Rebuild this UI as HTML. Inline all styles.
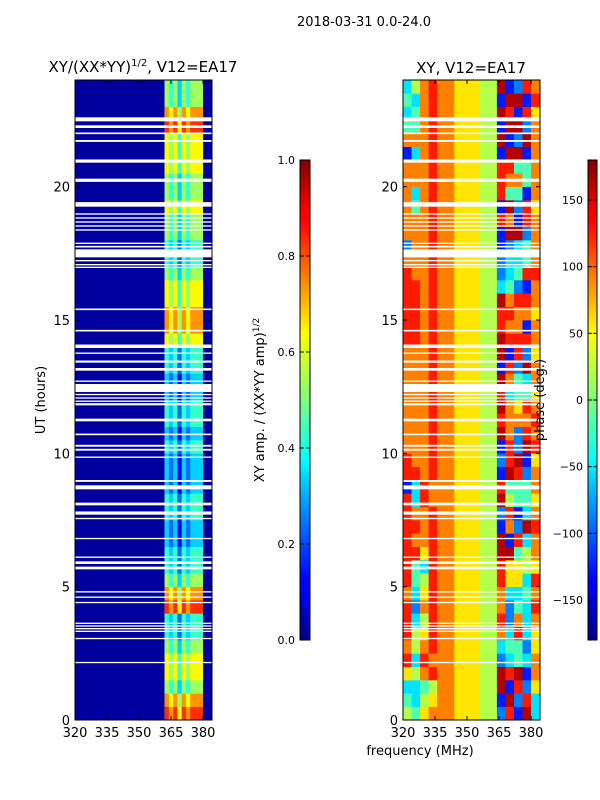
<!DOCTYPE html>
<html><head><meta charset="utf-8">
<style>
html,body{margin:0;padding:0;background:#fff;}
svg{display:block;font-family:"DejaVu Sans","Liberation Sans",sans-serif;}
</style></head>
<body>
<svg id="fig" width="600" height="800" viewBox="0 0 600 800" xmlns="http://www.w3.org/2000/svg">
<defs>
<linearGradient id="jet" x1="0" y1="1" x2="0" y2="0">
<stop offset="0" stop-color="#00007f"/><stop offset="0.11" stop-color="#0000ff"/>
<stop offset="0.125" stop-color="#0000ff"/><stop offset="0.34" stop-color="#00d4ff"/>
<stop offset="0.375" stop-color="#0ff"/><stop offset="0.5" stop-color="#7dff7a"/>
<stop offset="0.64" stop-color="#ff0"/><stop offset="0.66" stop-color="#ffe600"/>
<stop offset="0.875" stop-color="#ff0000"/><stop offset="0.89" stop-color="#f00"/>
<stop offset="1" stop-color="#7f0000"/>
</linearGradient>
</defs>
<g id="plots"></g>
<text x="364" y="26" font-size="13" text-anchor="middle">2018-03-31 0.0-24.0</text>
<text x="143" y="72" font-size="15" text-anchor="middle">XY/(XX*YY)<tspan font-size="10" dy="-6">1/2</tspan><tspan dy="6">, V12=EA17</tspan></text>
<text x="471" y="73" font-size="15" text-anchor="middle">XY, V12=EA17</text>
<text transform="translate(45,400) rotate(-90)" font-size="13" text-anchor="middle">UT (hours)</text>
<text x="420" y="755" font-size="13" text-anchor="middle">frequency (MHz)</text>
<text transform="translate(264,400) rotate(-90)" font-size="13" text-anchor="middle">XY amp. / (XX*YY amp)<tspan font-size="9" dy="-5">1/2</tspan></text>
<text transform="translate(544,400) rotate(-90)" font-size="13" text-anchor="middle">phase (deg.)</text>
</svg>
<script>
// ---- data ----
const tMin = 0, tMax = 24;
const fMin = 320, fMax = 384.2;
const hourTicks = [0, 5, 10, 15, 20];
const freqTicks = [320, 335, 350, 365, 380];
const ampTicks = [0.0, 0.2, 0.4, 0.6, 0.8, 1.0];
const ampTickLabels = ["0.0", "0.2", "0.4", "0.6", "0.8", "1.0"];
const phaseTicks = [-150, -100, -50, 0, 50, 100, 150];
const phaseTickLabels = ["\u2212150", "\u2212100", "\u221250", "0", "50", "100", "150"];
const rowHours = 0.5;
const ampBackground = 0.03;
const ampBandStart = 362, ampBandWidth = 2;
const ampBands = [
"87868788800","76757677700","54535455500","65646566600","65646566600","54535455500",
"43424344400","43424344400","87868788800","76757677700","54535455500","43424344400",
"43424344400","32313233300","32313233300","43424344400","43424344400","32313233300",
"32313233300","32313233300","43424344400","32313233300","43424344400","43424344400",
"32313233300","32313233300","43424344400","43424344400","65646566600","76757677700",
"76757677700","65646566600","65646566600","54535455500","43424344400","43424344400",
"54535455500","54535455500","65646566600","54535455500","54535455500","65646566600",
"65646566600","65646566600","87868788800","76757677700","54535455500","54535455500"];
const phaseBinWidth = 4;
const phaseRows = [
"5467776665528193","4356776665519283","3345776665591826","6578776665598917",
"8387776665523437","7578776665534426","8568776665573836","8358776665582737",
"8278776665572438","7368776665573347","8458776665586638","8438776665586656",
"8868776665599457","8778776665591837","8878776665517298","8778776665528137",
"8387776665595446","1387776665584447","8878776665519827","8778776665528916",
"7778776665518298","7778776665597287","7778776665587778","7778776665597687",
"7778776665583446","7778776665597437","7778776665518297","7778776665591826",
"8878776665598887","8878776665587717","8878776665588776","8878776665597887",
"8878776665534217","8778776665523488","7778776665523347","2778776665512347",
"7778776665519927","7778776665587187","7478776665519286","7378776665584417",
"7778776665587747","7778776665588447","1378776665519917","7778776665591297",
"4478776665519927","3478776665598186","4378776665519918","3578776665591287"];
const gapStart = [22.45,22.2,21.97,21.68,20.9,20.18,19.25,18.95,18.8,18.65,18.5,18.35,17.85,17.72,17.35,17.2,17.05,16.95,15.37,14.57,13.95,13.73,13.4,13.1,12.68,12.3,12.18,12.05,11.93,11.8,11.2,10.68,10.25,10.1,9.83,8.93,8.65,8.05,7.7,7.53,6.78,6.08,5.85,5.65,4.78,4.58,4.38,3.6,3.5,3.4,3.3,3.03,2.13];
const gapEnd   = [22.6,22.3,22.03,21.75,21.02,20.3,19.42,19.0,18.85,18.7,18.55,18.4,17.9,17.78,17.65,17.25,17.1,17.0,15.43,14.63,14.08,13.78,13.48,13.2,12.73,12.6,12.23,12.1,11.98,11.88,11.3,10.74,10.32,10.17,9.88,9.0,8.8,8.15,7.82,7.58,6.83,6.13,5.95,5.75,4.83,4.63,4.43,3.65,3.55,3.45,3.35,3.08,2.18];

// ---- layout ----
const NS = "http://www.w3.org/2000/svg";
const root = document.getElementById('plots');
const plotTop = 80, plotBottom = 720;
function jet(v){
  v = Math.max(0, Math.min(1, v));
  const c = x => Math.round(255 * Math.max(0, Math.min(1, x)));
  return `rgb(${c(1.5-Math.abs(4*v-3))},${c(1.5-Math.abs(4*v-2))},${c(1.5-Math.abs(4*v-1))})`;
}
function mk(tag, attrs, parent){
  const e = document.createElementNS(NS, tag);
  for (const k in attrs) e.setAttribute(k, attrs[k]);
  (parent || root).appendChild(e);
  return e;
}
function yOfHour(h){ return plotBottom - (h - tMin) / (tMax - tMin) * (plotBottom - plotTop); }

function panel(name, x0, x1, cellFn){
  const xOf = f => x0 + (f - fMin) / (fMax - fMin) * (x1 - x0);
  const g = mk('g', {});
  
  
  cellFn(g, xOf);
  for (let i = 0; i < gapStart.length; i++) {
    const r = mk('rect', {x: x0, y: yOfHour(gapEnd[i]), width: x1 - x0, height: yOfHour(gapStart[i]) - yOfHour(gapEnd[i]), fill: '#fff'}, g);
    
    
  }
  const fr = mk('rect', {x: x0, y: plotTop, width: x1 - x0, height: plotBottom - plotTop, fill: 'none', stroke: '#000', 'stroke-width': 1}, g);
  
  
  hourTicks.forEach(h => {
    const y = yOfHour(h);
    mk('line', {x1: x0, x2: x0 + 4, y1: y, y2: y, stroke: '#000'}, g);
    mk('line', {x1: x1, x2: x1 - 4, y1: y, y2: y, stroke: '#000'}, g);
    const t = mk('text', {x: x0 - 5, y: y + 5, 'font-size': 13, 'text-anchor': 'end'}, g);
    t.textContent = h;
    
    
  });
  freqTicks.forEach(f => {
    const x = xOf(f);
    mk('line', {x1: x, x2: x, y1: plotBottom, y2: plotBottom - 4, stroke: '#000'}, g);
    mk('line', {x1: x, x2: x, y1: plotTop, y2: plotTop + 4, stroke: '#000'}, g);
    const t = mk('text', {x: x, y: plotBottom + 17, 'font-size': 13, 'text-anchor': 'middle'}, g);
    t.textContent = f;
    
    
  });
}

panel('amp-heatmap', 75, 212, (g, xOf) => {
  const bg = mk('rect', {x: xOf(fMin), y: plotTop, width: xOf(ampBandStart) - xOf(fMin), height: plotBottom - plotTop, fill: jet(ampBackground)}, g);
  
  
  ampBands.forEach((row, i) => {
    const yTop = yOfHour((i + 1) * rowHours), yBot = yOfHour(i * rowHours);
    for (let j = 0; j < row.length; j++) {
      const f0 = ampBandStart + j * ampBandWidth, f1 = Math.min(fMax, f0 + ampBandWidth);
      const v = ampBackground + (+row[j]) * 0.1;
      const c = mk('rect', {x: xOf(f0), y: yTop, width: xOf(f1) - xOf(f0) + 0.3, height: yBot - yTop + 0.3, fill: jet(v)}, g);
      
      
    }
  });
});

panel('phase-heatmap', 403, 540, (g, xOf) => {
  phaseRows.forEach((row, i) => {
    const yTop = yOfHour((i + 1) * rowHours), yBot = yOfHour(i * rowHours);
    for (let j = 0; j < row.length; j++) {
      const f0 = fMin + j * phaseBinWidth, f1 = Math.min(fMax, f0 + phaseBinWidth);
      const ph = -162 + (+row[j]) * 36;
      const c = mk('rect', {x: xOf(f0), y: yTop, width: xOf(f1) - xOf(f0) + 0.3, height: yBot - yTop + 0.3, fill: jet((ph + 180) / 360)}, g);
      
      
    }
  });
});

function colorbar(name, x0, w, vmin, vmax, ticks, labels){
  const cTop = 160, cBot = 640;
  const g = mk('g', {});
  
  
  mk('rect', {x: x0, y: cTop, width: w, height: cBot - cTop, fill: 'url(#jet)', stroke: '#000', 'stroke-width': 1}, g);
  ticks.forEach((v, i) => {
    const y = cBot - (v - vmin) / (vmax - vmin) * (cBot - cTop);
    mk('line', {x1: x0, x2: x0 + 4, y1: y, y2: y, stroke: '#000'}, g);
    mk('line', {x1: x0 + w, x2: x0 + w - 4, y1: y, y2: y, stroke: '#000'}, g);
    const t = mk('text', {x: x0 - 5, y: y + 4, 'font-size': 11, 'text-anchor': 'end'}, g);
    t.textContent = labels[i];
    
    
  });
}
colorbar('amp-colorbar', 300, 10, 0, 1, ampTicks, ampTickLabels);
colorbar('phase-colorbar', 588, 9, -180, 180, phaseTicks, phaseTickLabels);
</script>
</body></html>
